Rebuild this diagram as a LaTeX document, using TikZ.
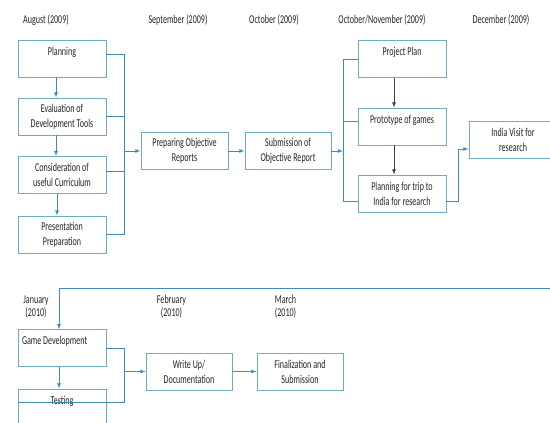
\documentclass[tikz,border=0pt]{standalone}
\usepackage{fontspec}
\setmainfont{Carlito}[FakeStretch=0.67]
\usepackage{tikz}
\definecolor{boxline}{RGB}{110,172,196}
\definecolor{linkline}{RGB}{62,138,186}
\definecolor{txtgray}{RGB}{35,35,35}
\newcommand{\boxfont}{\fontsize{12}{15}\selectfont}

\begin{document}
\begin{tikzpicture}[x=1pt,y=1pt,>=latex,
  stepbox/.style={draw=boxline,line width=0.9pt,text=txtgray,font=\boxfont,
    text width=80pt,inner xsep=4pt,minimum height=37pt,align=flush center},
  month/.style={text=txtgray,font=\boxfont,inner sep=0pt,align=center},
  link/.style={draw=linkline,line width=0.8pt},
  dark/.style={draw=black!75,line width=0.8pt}]
\clip (0,0) rectangle (550,-423);
\node [month] (aug) at (46,-20) {August (2009)};
\node [month] (sep) at (178,-20) {September (2009)};
\node [month] (oct) at (274,-20) {October (2009)};
\node [month] (octnov) at (382,-20) {October/November (2009)};
\node [month] (dec) at (501,-20) {December (2009)};
\node [stepbox] (plan) at (62,-58.5) {Planning\\\phantom{x}};
\node [stepbox] (evaltools) at (62,-116.5) {Evaluation of\\Development Tools};
\node [stepbox] (curric) at (62,-175) {Consideration of\\useful Curriculum};
\node [stepbox] (present) at (62,-234.5) {Presentation\\Preparation};
\node [stepbox,text width=79pt] (prepare) at (184.5,-151) {Preparing Objective\\Reports};
\node [stepbox,text width=78pt] (submit) at (288,-151) {Submission of\\Objective Report};
\node [stepbox] (proj) at (402,-59) {Project Plan\\\phantom{x}};
\node [stepbox] (proto) at (402,-126.5) {Prototype of games\\\phantom{x}};
\node [stepbox] (trip) at (402,-193.5) {Planning for trip to\\India for research};
\node [stepbox] (india) at (513,-139.5) {India Visit for\\research};
\node [month] (jan) at (36,-306.5) {January\\[-2pt](2010)};
\node [month] (feb) at (171.5,-306.5) {February\\[-2pt](2010)};
\node [month] (mar) at (285.5,-306.5) {March\\[-2pt](2010)};
\node [stepbox,align=flush left] (gamedev) at (62,-348.3) {Game Development\\\phantom{x}};
\node [stepbox] (testing) at (62,-407.5) {Testing\\\phantom{x}};
\node [stepbox,text width=78pt] (write) at (189,-371.5) {Write Up/\\Documentation};
\node [stepbox,text width=78pt] (final) at (300,-371.5) {Finalization and\\Submission};
\coordinate (m1) at (124,-151);
\coordinate (f1) at (343,-151);
\coordinate (m2) at (124,-371.5);
\coordinate (back) at (59,-288);
\draw [link,->] ([xshift=-6pt]plan.south) -- ([xshift=-6pt]evaltools.north);
\draw [link,->] ([xshift=-6pt]evaltools.south) -- ([xshift=-6pt]curric.north);
\draw [link,->] ([xshift=-5pt]curric.south) -- ([xshift=-5pt]present.north);
\draw [link] (plan.5) -| (m1 |- present.east) -- (present.east);
\draw [link] (evaltools.east) -- (evaltools.east -| m1);
\draw [link] (curric.4) -- (curric.4 -| m1);
\draw [link,->] (m1) -- (prepare.west);
\draw [link,->] (prepare.east) -- (submit.west);
\draw [link,->] (submit.east) -- (f1);
\draw [link] (proj.west) -| (f1 |- trip.190) -- (trip.190);
\draw [link] (proto.174) -- (proto.174 -| f1);
\draw [dark,->] ([xshift=-8pt]proj.south) -- ([xshift=-8pt]proto.north);
\draw [dark,->] ([xshift=-8pt]proto.south) -- ([xshift=-8pt]trip.north);
\draw [link,->] (trip.-10) -- ++(12,0) |- (india.192);
\draw [link,->] (india.east) -- ++(12,0) |- (back) -- (back |- gamedev.north);
\draw [link,->] ([xshift=-3pt]gamedev.south) -- ([xshift=-3pt]testing.north);
\draw [link] (gamedev.east) -| (m2 |- testing.174) -- (testing.174);
\draw [link,->] (m2) -- (write.west);
\draw [link,->] (write.east) -- (final.west);
\end{tikzpicture}
\end{document}
